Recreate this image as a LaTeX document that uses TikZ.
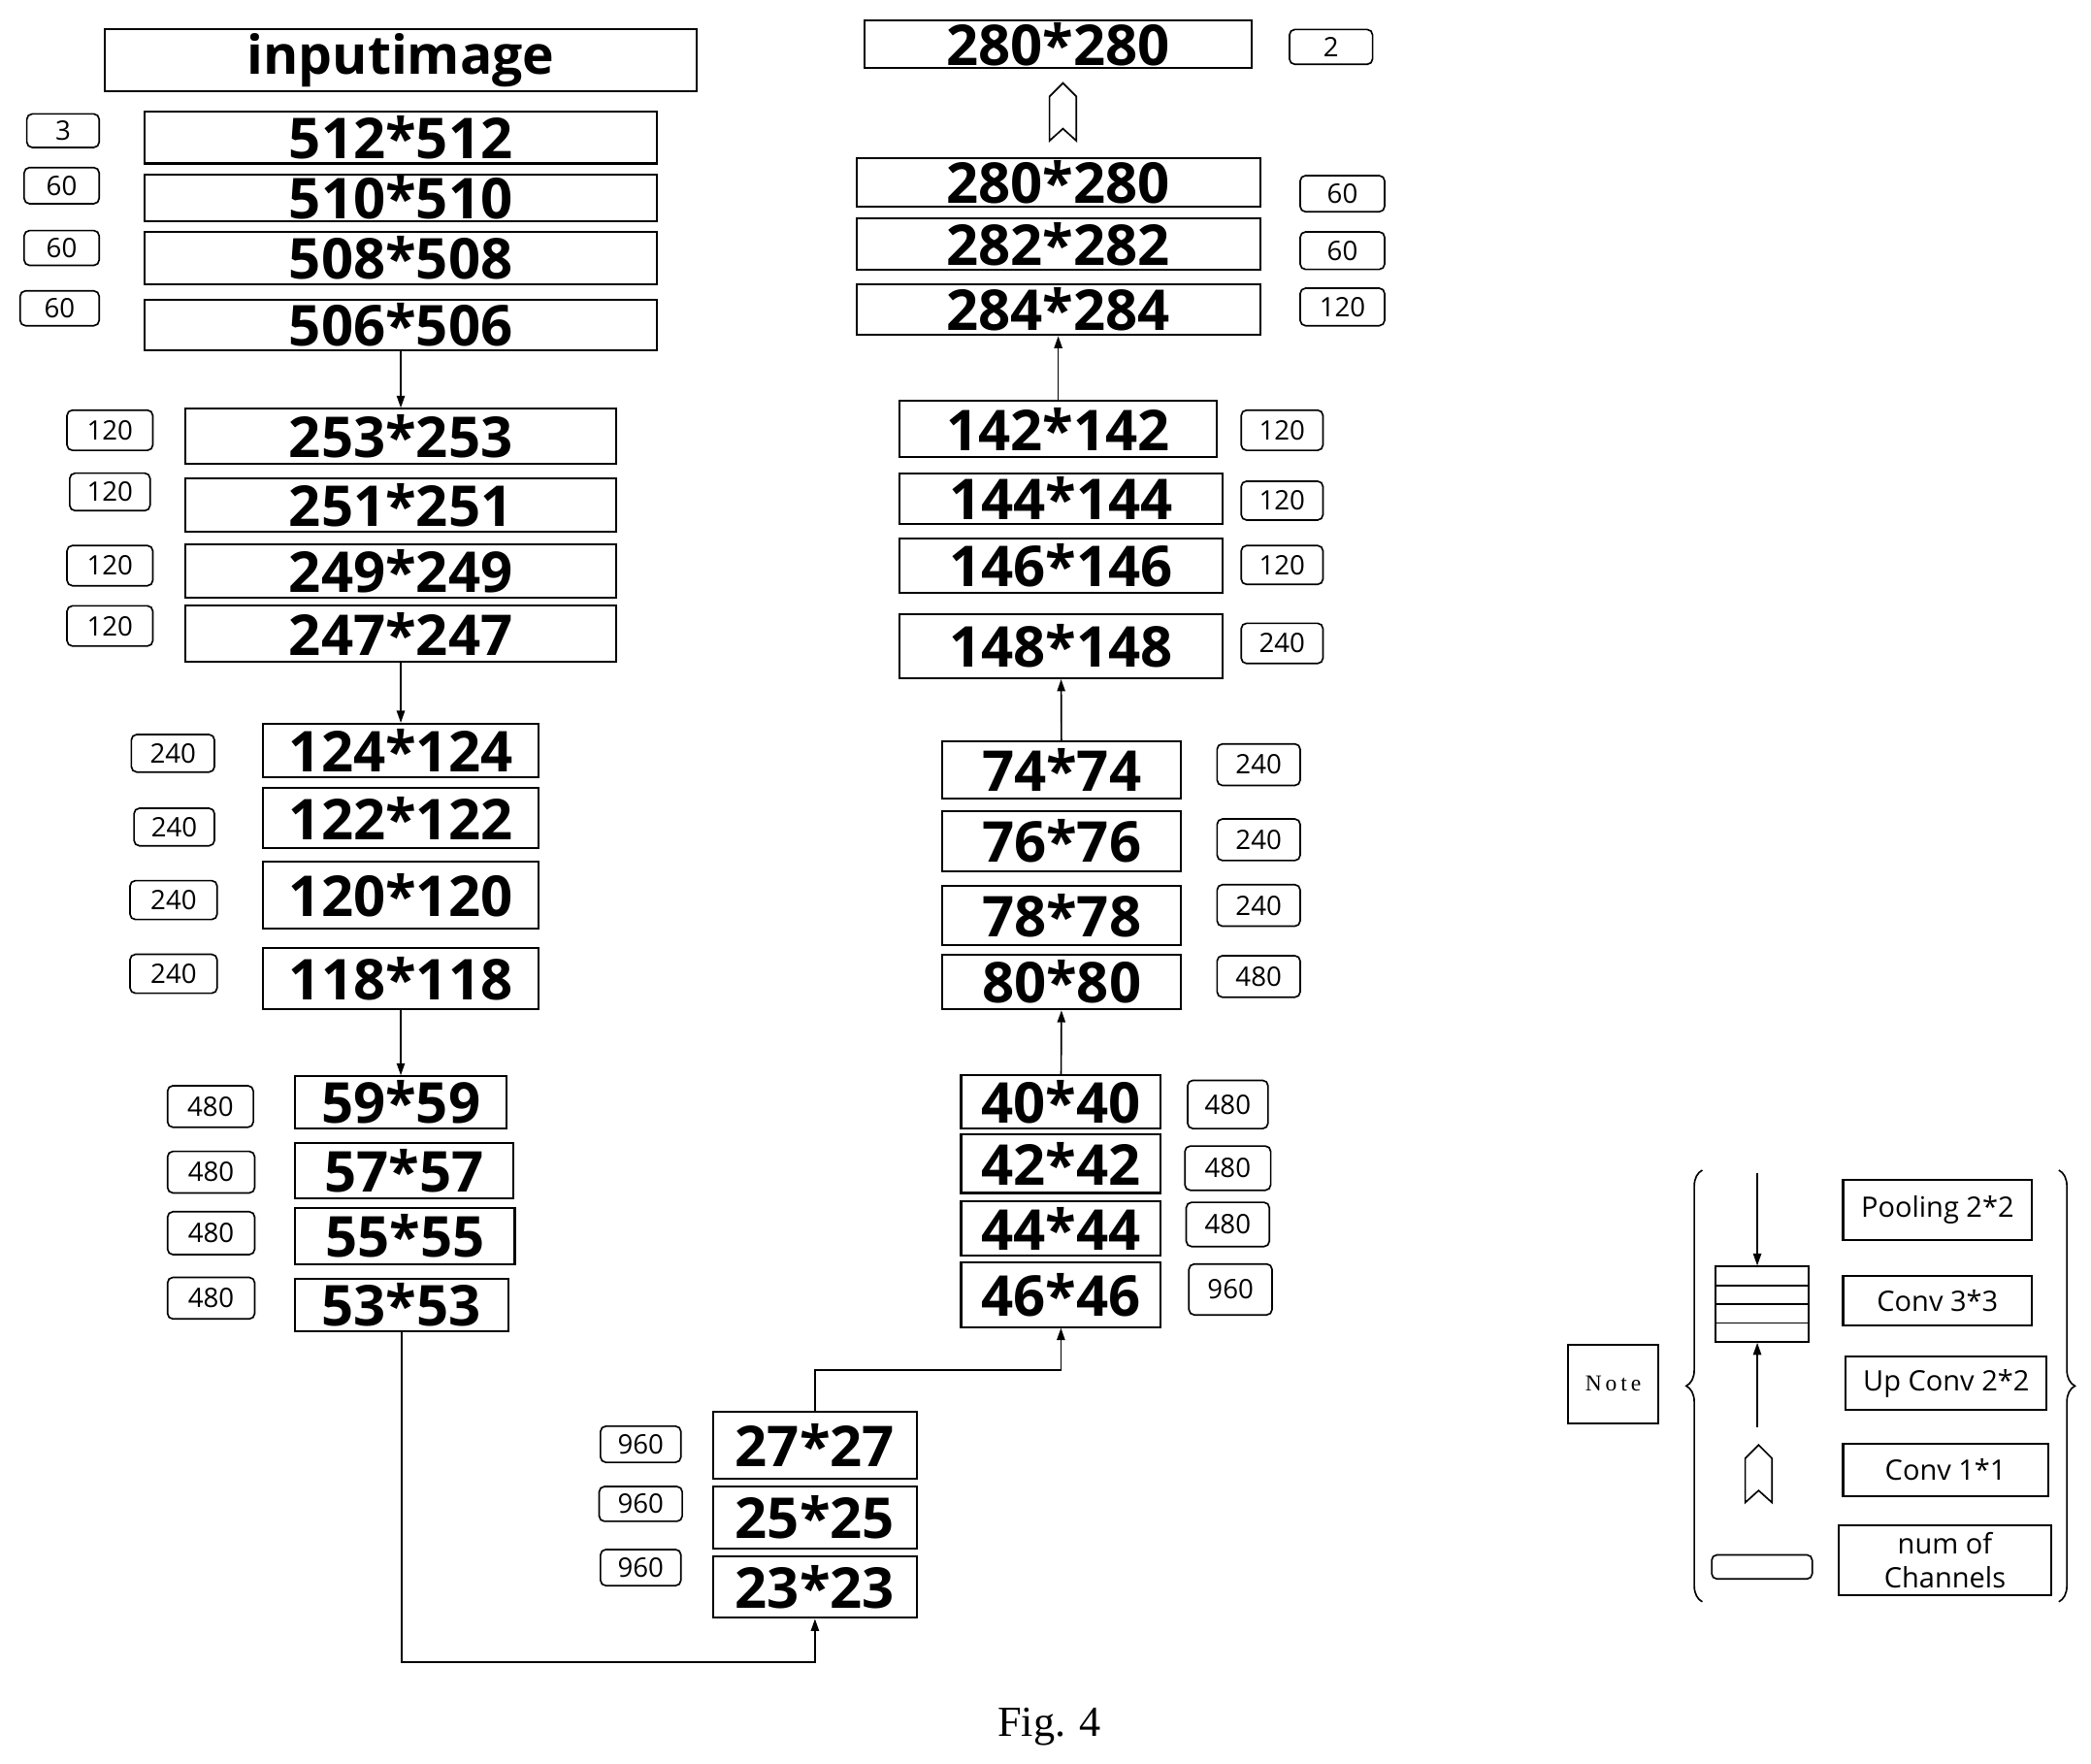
\documentclass[tikz,border=0pt]{standalone}
\usepackage{fontspec}
\setmainfont{Open Sans}
\newfontfamily\figfont{Liberation Serif}
\usetikzlibrary{arrows.meta,decorations.pathreplacing}

\tikzset{
  blk/.style 2 args={draw, line width=1.5pt, inner sep=0pt, minimum width=#1, minimum height=#2,
                     font=\fontsize{42}{42}\selectfont\bfseries},
  chn/.style 2 args={draw, line width=1.2pt, rounded corners=4pt, inner sep=0pt,
                     minimum width=#1, minimum height=#2, font=\fontsize{20}{20}\selectfont},
  lgd/.style 2 args={draw, line width=1.5pt, inner sep=0pt, minimum width=#1, minimum height=#2,
                     align=center, font=\fontsize{21}{25}\selectfont},
  arr/.style={-{Triangle[length=9pt,width=6pt]}, line width=1.2pt},
  upmark/.pic={\draw[line width=1.2pt] (-10,22) -- (-10,-11) -- (0,-21) -- (10,-11) -- (10,22) -- (0,13) -- cycle;}
}

\begin{document}
\begin{tikzpicture}[x=1pt, y=-1pt]
\useasboundingbox (0,0) rectangle (1560,1316);

%% contracting path
\node[blk={442}{46}, font=\fontsize{40}{40}\selectfont\bfseries] (input) at (299,45) {inputimage};
\node[blk={382}{39}] (n512) at (299,102.5) {512*512};
\node[blk={382}{35}] (n510) at (299,147.5) {510*510};
\node[blk={382}{39}] (n508) at (299,192.5) {508*508};
\node[blk={382}{37}] (n506) at (299,242.5) {506*506};
\node[chn={54}{25}] (c512) at (47,97.5)  {3};
\node[chn={56}{27}] (c510) at (46,138.5) {60};
\node[chn={56}{26}] (c508) at (46,185)   {60};
\node[chn={59}{26}] (c506) at (44.5,230) {60};

\node[blk={322}{41}] (n253) at (299,325.5) {253*253};
\node[blk={322}{40}] (n251) at (299,377)   {251*251};
\node[blk={322}{40}] (n249) at (299,426)   {249*249};
\node[blk={322}{42}] (n247) at (299,473)   {247*247};
\node[chn={64}{30}] (c253) at (82,321) {120};
\node[chn={60}{28}] (c251) at (82,367) {120};
\node[chn={64}{30}] (c249) at (82,422) {120};
\node[chn={64}{30}] (c247) at (82,467) {120};

\node[blk={206}{40}] (n124) at (299,560)   {124*124};
\node[blk={206}{45}] (n122) at (299,610.5) {122*122};
\node[blk={206}{50}] (n120) at (299,668)   {120*120};
\node[blk={206}{46}] (n118) at (299,730)   {118*118};
\node[chn={62}{28}] (c124) at (129,562)     {240};
\node[chn={60}{28}] (c122) at (130,617)     {240};
\node[chn={65}{29}] (c120) at (129.5,671.5) {240};
\node[chn={65}{29}] (c118) at (129.5,726.5) {240};

\node[blk={158}{39}] (n59) at (299,822.5)   {59*59};
\node[blk={163}{41}] (n57) at (301.5,873.5) {57*57};
\node[blk={164}{42}] (n55) at (302,922)     {55*55};
\node[blk={159}{39}] (n53) at (299.5,973.5) {53*53};
\node[chn={64}{31}] (c59) at (157,825.5)   {480};
\node[chn={65}{31}] (c57) at (157.5,874.5) {480};
\node[chn={65}{32}] (c55) at (157.5,920)   {480};
\node[chn={65}{31}] (c53) at (157.5,968.5) {480};

%% bottom
\node[blk={152}{50}] (n27) at (608,1078) {27*27};
\node[blk={152}{46}] (n25) at (608,1132) {25*25};
\node[blk={152}{46}] (n23) at (608,1184) {23*23};
\node[chn={60}{27}] (c27) at (478,1077.5) {960};
\node[chn={62}{26}] (c25) at (478,1122)   {960};
\node[chn={60}{27}] (c23) at (478,1169.5) {960};

%% expanding path
\node[blk={149}{48}] (n46) at (791.5,966)   {46*46};
\node[blk={149}{41}] (n44) at (791.5,916.5) {44*44};
\node[blk={149}{44}] (n42) at (791.5,868)   {42*42};
\node[blk={149}{40}] (n40) at (791.5,822)   {40*40};
\node[chn={62}{38}] (c46) at (918,962)   {960};
\node[chn={62}{33}] (c44) at (916,913.5) {480};
\node[chn={64}{33}] (c42) at (916,871.5) {480};
\node[chn={60}{36}] (c40) at (916,824)   {480};

\node[blk={178}{41}] (n80) at (792,732.5) {80*80};
\node[blk={178}{44}] (n78) at (792,683)   {78*78};
\node[blk={178}{45}] (n76) at (792,627.5) {76*76};
\node[blk={178}{43}] (n74) at (792,574.5) {74*74};
\node[chn={62}{31}] (c80) at (939,728.5) {480};
\node[chn={62}{31}] (c78) at (939,675.5) {240};
\node[chn={62}{31}] (c76) at (939,626.5) {240};
\node[chn={62}{31}] (c74) at (939,570.5) {240};

\node[blk={241}{48}] (n148) at (791.5,482) {148*148};
\node[blk={241}{40}] (n146) at (791.5,422) {146*146};
\node[blk={241}{38}] (n144) at (791.5,372) {144*144};
\node[blk={237}{42}] (n142) at (789.5,320) {142*142};
\node[chn={61}{30}] (c148) at (956.5,480)   {240};
\node[chn={61}{29}] (c146) at (956.5,421.5) {120};
\node[chn={61}{29}] (c144) at (956.5,373.5) {120};
\node[chn={61}{30}] (c142) at (956.5,321)   {120};

\node[blk={301}{38}] (n284)  at (789.5,231) {284*284};
\node[blk={301}{38}] (n282)  at (789.5,182) {282*282};
\node[blk={301}{36}] (n280)  at (789.5,136) {280*280};
\node[chn={63}{28}] (c284) at (1001.5,229)   {120};
\node[chn={63}{28}] (c282) at (1001.5,187)   {60};
\node[chn={63}{27}] (c280) at (1001.5,144.5) {60};

\node[blk={289}{36}] (out) at (789.5,33) {280*280};
\node[chn={62}{26}] (cout) at (993,35) {2};
\pic at (793,83) {upmark};

%% connectors
\coordinate (bl) at (299.5,1240);
\coordinate (tr) at (700,1022);
\draw[arr] (n506) -- (n253);
\draw[arr] (n247) -- (n124);
\draw[arr] (n118) -- (n59);
\draw[arr] (n53) -- (bl) -| (n23);
\draw[arr] (n27.north) |- (tr) -| (n46.south);
\draw[arr] (n40) -- (n80);
\draw[arr] (n74) -- (n148);
\draw[arr] (n142) -- (n284);

%% legend
\node[draw, line width=1.5pt, minimum width=67, minimum height=59, inner sep=0pt,
      font=\figfont\fontsize{17}{17}\selectfont] (note) at (1203.5,1032.5) {N\,o\,t\,e};
\draw[decorate, decoration={brace, amplitude=12pt}, line width=1.2pt] (1270,1195) -- (1270,873);
\draw[decorate, decoration={brace, amplitude=12pt}, line width=1.2pt] (1536,873) -- (1536,1195);

\node[draw, line width=1.5pt, minimum width=69, minimum height=56, inner sep=0pt] (stack) at (1314.5,973) {};
\foreach \yy in {959,973,987}
  \draw[line width=1.2pt] (1280,\yy) -- (1349,\yy);
\coordinate (dtop) at (1311,875);
\coordinate (ubot) at (1311,1065);
\draw[arr] (dtop) -- (dtop |- stack.north);
\draw[arr] (ubot) -- (ubot |- stack.south);
\pic at (1312,1099) {upmark};
\node[chn={75}{18}] (chkey) at (1314.5,1169) {};

\node[lgd={141}{45}] (lpool) at (1445.5,902.5) {Pooling 2*2};
\node[lgd={141}{37}] (lconv) at (1445.5,970.5) {Conv 3*3};
\node[lgd={150}{40}] (lup)   at (1452,1032)    {Up Conv 2*2};
\node[lgd={153}{39}] (lone)  at (1451.5,1096.5) {Conv 1*1};
\node[lgd={158}{52}] (lnum)  at (1451,1164)    {num of\\Channels};

\node[font=\figfont\fontsize{32}{32}\selectfont] (fig) at (783,1288) {Fig. 4};
\end{tikzpicture}
\end{document}
